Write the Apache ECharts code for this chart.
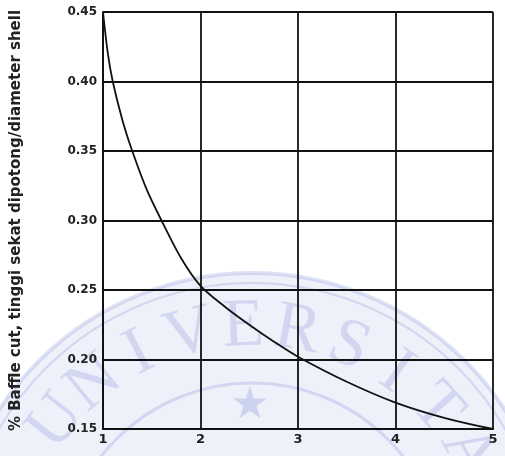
<!DOCTYPE html>
<html>
<head>
<meta charset="utf-8">
<script src="https://cdn.jsdelivr.net/npm/echarts@6/dist/echarts.min.js"></script>
<style>
  html, body { margin: 0; padding: 0; background: #fff; }
  #baffle-chart { width: 505px; height: 456px; }
</style>
</head>
<body>
<div id="baffle-chart"></div>
<script>
// values
var ratioX = [1.0, 1.05, 1.1, 1.2, 1.3, 1.45, 1.6, 1.8, 2.0, 2.25, 2.5, 2.75, 3.0, 3.5, 4.0, 4.5, 5.0];
var baffleCut = [0.45, 0.42, 0.40, 0.372, 0.35, 0.322, 0.30, 0.273, 0.253, 0.238, 0.225, 0.213, 0.202, 0.184, 0.169, 0.158, 0.15];
var yTicks = [0.15, 0.20, 0.25, 0.30, 0.35, 0.40, 0.45];
var xTicks = [1, 2, 3, 4, 5];
var axisName = '% Baffle cut, tinggi sekat dipotong/diameter shell';
var stampLetters = ['U', 'N', 'I', 'V', 'E', 'R', 'S', 'I', 'T', 'A', 'S'];

var chart = echarts.init(document.getElementById('baffle-chart'));

// faint university stamp behind the chart
var stampColor = 'rgba(120,135,210,0.24)';
var cx = 252, cy = 575;
var stamp = [
  { type: 'circle', shape: { cx: cx, cy: cy, r: 302 }, style: { fill: 'rgba(150,160,225,0.16)', stroke: stampColor, lineWidth: 4 }, z: -1 },
  { type: 'circle', shape: { cx: cx, cy: cy, r: 292 }, style: { fill: 'none', stroke: stampColor, lineWidth: 2 }, z: -1 },
  { type: 'circle', shape: { cx: cx, cy: cy, r: 192 }, style: { fill: 'none', stroke: stampColor, lineWidth: 3 }, z: -1 },
  { type: 'text', x: 250, y: 407, style: { text: '\u2605', fill: 'rgba(120,135,210,0.28)', font: '44px DejaVu Sans', align: 'center', verticalAlign: 'middle' }, z: -1 }
];
stampLetters.forEach(function (ch, i) {
  var ang = (-142 + i * 12.5) * Math.PI / 180;
  var r = 248;
  stamp.push({
    type: 'text',
    x: cx + r * Math.cos(ang),
    y: cy + r * Math.sin(ang),
    rotation: -(ang + Math.PI / 2),
    style: { text: ch, fill: stampColor, font: '68px "Liberation Serif"', align: 'center', verticalAlign: 'middle' },
    z: -1
  });
});

var lineColor = '#111';
var labelFont = 'DejaVu Sans';
var option = {
  backgroundColor: '#fff',
  animation: false,
  graphic: stamp,
  grid: {
    left: 103,
    right: 12,
    top: 12,
    bottom: 27
  },
  xAxis: {
    type: 'value',
    min: xTicks[0],
    max: xTicks[xTicks.length - 1],
    interval: 1,
    axisLine: { show: true, lineStyle: { color: lineColor, width: 2 } },
    axisTick: { show: false },
    splitLine: { show: true, lineStyle: { color: lineColor, width: 1.8 } },
    axisLabel: {
      color: '#222',
      fontFamily: labelFont,
      fontWeight: 'bold',
      fontSize: 13,
      margin: 4,
      formatter: function (v) { return String(v); }
    }
  },
  yAxis: {
    type: 'value',
    min: yTicks[0],
    max: yTicks[yTicks.length - 1],
    interval: 0.05,
    name: axisName,
    nameLocation: 'middle',
    nameGap: 79,
    nameRotate: 90,
    nameTextStyle: {
      color: '#222',
      fontFamily: labelFont,
      fontWeight: 'bold',
      fontSize: 15
    },
    axisLine: { show: true, lineStyle: { color: lineColor, width: 2 } },
    axisTick: { show: false },
    splitLine: { show: true, lineStyle: { color: lineColor, width: 1.8 } },
    axisLabel: {
      color: '#222',
      fontFamily: labelFont,
      fontWeight: 'bold',
      fontSize: 12,
      margin: 6,
      formatter: function (v) { return v.toFixed(2); }
    }
  },
  series: [{
    type: 'line',
    smooth: 0.3,
    showSymbol: false,
    lineStyle: { color: lineColor, width: 1.8 },
    data: ratioX.map(function (x, i) { return [x, baffleCut[i]]; })
  }]
};
chart.setOption(option);
</script>
</body>
</html>
